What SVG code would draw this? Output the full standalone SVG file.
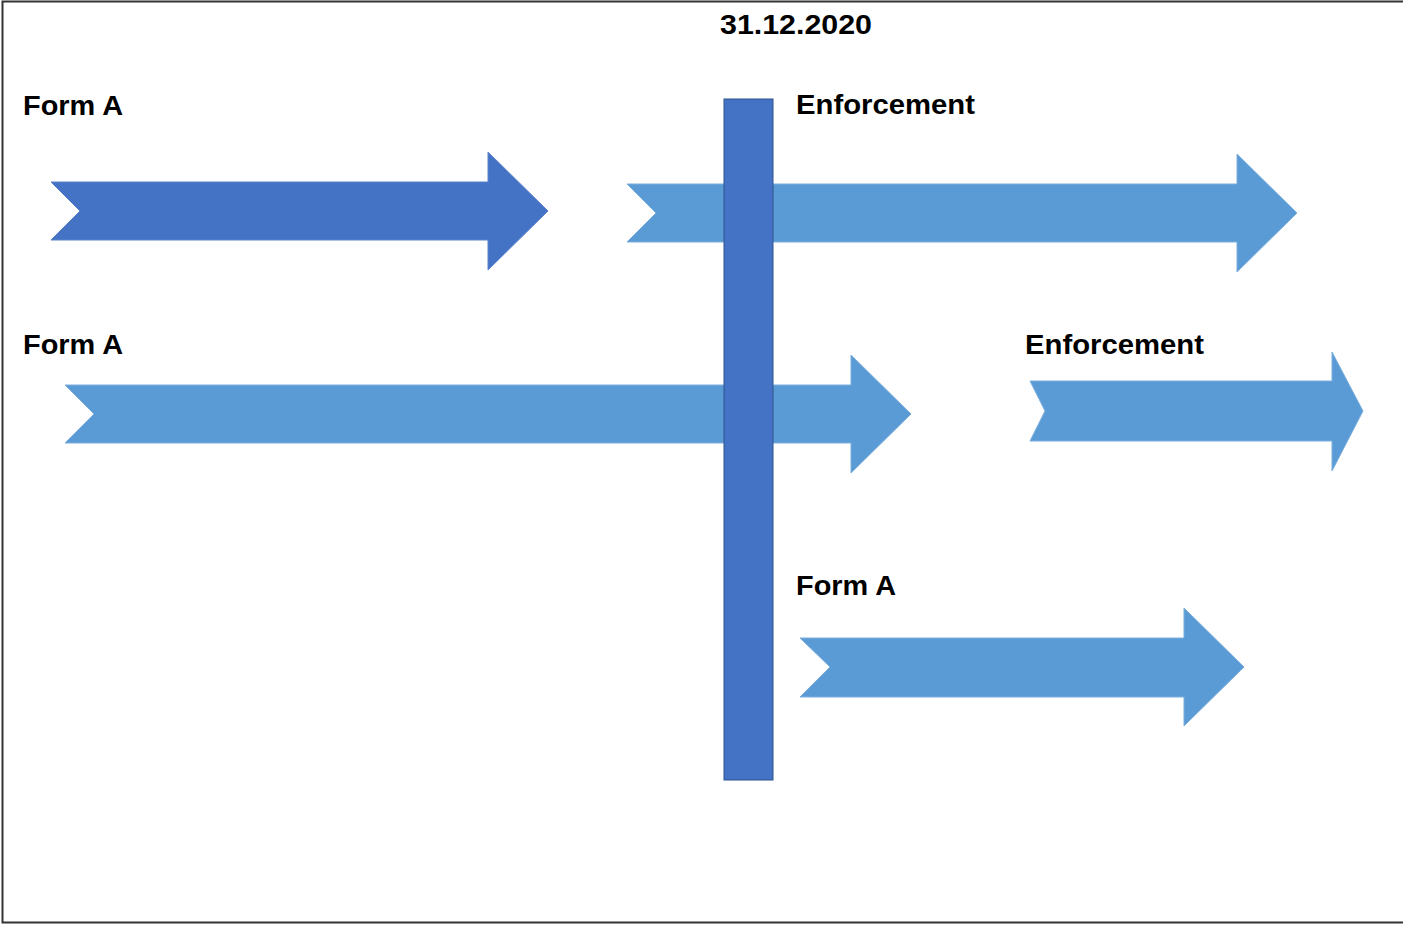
<svg xmlns="http://www.w3.org/2000/svg" width="1403" height="925" viewBox="0 0 1403 925">
<style>
.lbl{font-family:"Liberation Sans",Arial,sans-serif;font-weight:bold;font-size:28px;fill:#000}
.dark{fill:#4472C4;stroke:#5A82CC;stroke-width:1}
.light{fill:#5B9BD5;stroke:#7AAEDD;stroke-width:1}
</style>
<rect width="1403" height="925" fill="#fff"/>
<path d="M1403 1.5H2.5V922.5H1403" fill="none" stroke="#333" stroke-width="2"/>
<g id="label-date"><text class="lbl" x="720" y="34" textLength="152" lengthAdjust="spacingAndGlyphs">31.12.2020</text></g>
<g id="arrow1">
<polygon class="dark" points="51,182 488,182 488,152 548,211 488,270 488,240 51,240 80,211"/>
</g>
<g id="label-form-a-1"><text class="lbl" x="23" y="115" textLength="100" lengthAdjust="spacingAndGlyphs">Form A</text></g>
<g id="arrow2">
<polygon class="light" points="627,184 1237,184 1237,154 1297,213 1237,272 1237,242 627,242 656,213"/>
</g>
<g id="label-enf-1"><text class="lbl" x="796" y="114" textLength="179" lengthAdjust="spacingAndGlyphs">Enforcement</text></g>
<g id="arrow3">
<polygon class="light" points="65,385 851,385 851,355 911,414 851,473 851,443 65,443 94,414"/>
</g>
<g id="label-form-a-2"><text class="lbl" x="23" y="354" textLength="100" lengthAdjust="spacingAndGlyphs">Form A</text></g>
<g id="arrow4">
<polygon class="light" points="1030,381 1332,381 1332,352 1363,411 1332,471 1332,441 1030,441 1045,411"/>
</g>
<g id="label-enf-2"><text class="lbl" x="1025" y="354" textLength="179" lengthAdjust="spacingAndGlyphs">Enforcement</text></g>
<g id="arrow5">
<polygon class="light" points="800,638 1184,638 1184,608 1244,667 1184,726 1184,697 800,697 830,667"/>
</g>
<g id="label-form-a-3"><text class="lbl" x="796" y="595" textLength="100" lengthAdjust="spacingAndGlyphs">Form A</text></g>
<g id="date-bar">
<rect x="724" y="99" width="49" height="681" fill="#4472C4" stroke="#2F528F" stroke-width="1"/>
</g>
<g id="connectors"></g>
</svg>
